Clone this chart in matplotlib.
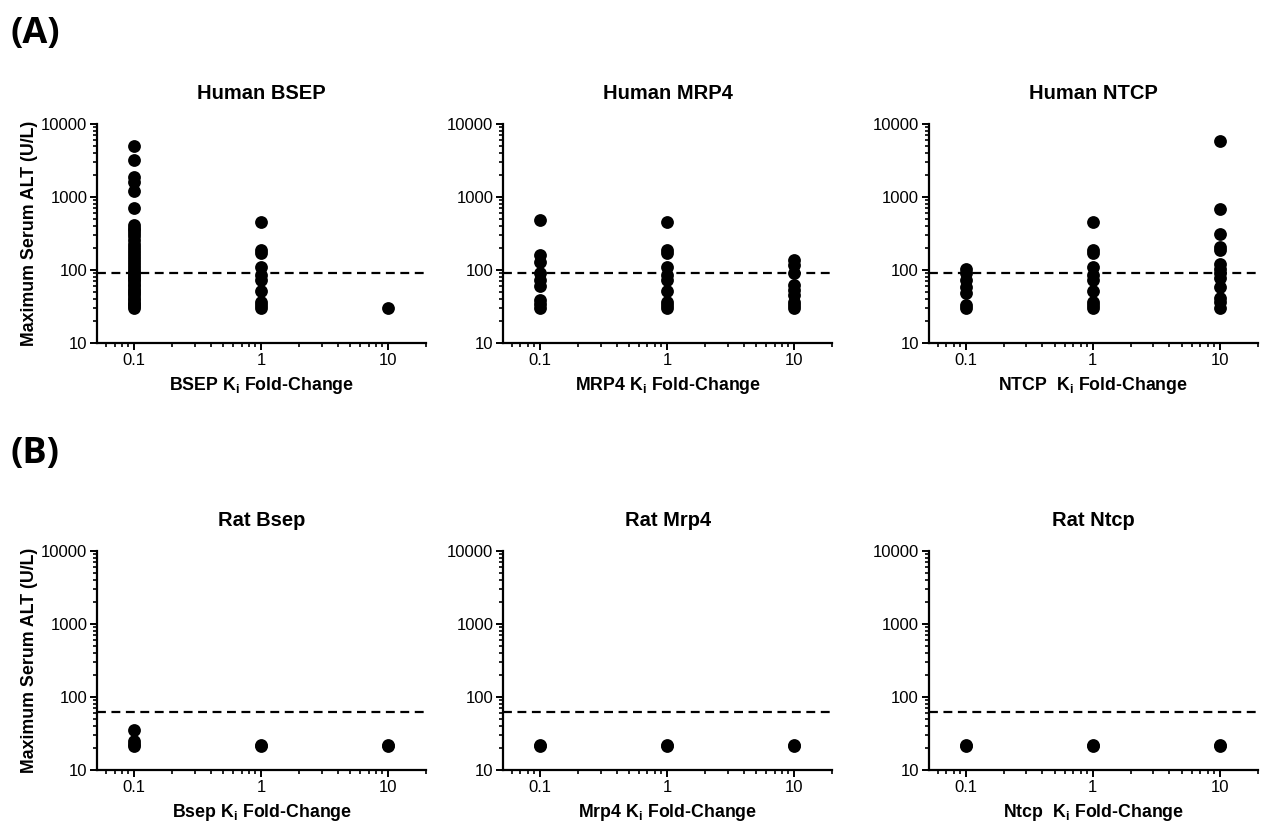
import matplotlib
matplotlib.use("Agg")
import matplotlib.pyplot as plt
from matplotlib.ticker import LogLocator, NullFormatter

plt.rcParams['font.family'] = ['Liberation Sans', 'DejaVu Sans']
plt.rcParams['mathtext.fontset'] = 'custom'
plt.rcParams['mathtext.bf'] = 'Liberation Sans:bold'
plt.rcParams['mathtext.rm'] = 'Liberation Sans:bold'

# data (U/L)
fold = [0.1, 1, 10]

bsep_h_01 = [5000, 3200, 1900, 1600, 1200, 700, 410, 380, 350, 320, 290, 260, 230,
             210, 190, 170, 155, 140, 128, 116, 106, 98, 92, 86, 80, 75, 70, 65, 60,
             56, 52, 48, 45, 42, 39, 36, 34, 32, 30]
bsep_h_1 = [457, 186, 170, 111, 85, 73, 52, 37, 33, 30]
bsep_h_10 = [30]

mrp4_h_01 = [480, 163, 130, 90, 73, 61, 39, 34, 30]
mrp4_h_1 = [457, 186, 170, 111, 85, 73, 52, 37, 33, 30]
mrp4_h_10 = [137, 117, 90, 62, 53, 46, 37, 33, 30]

ntcp_h_01 = [105, 90, 73, 59, 48, 33, 30]
ntcp_h_1 = [457, 186, 170, 111, 85, 73, 52, 37, 33, 30]
ntcp_h_10 = [5900, 690, 309, 209, 187, 123, 105, 90, 77, 59, 41, 37, 30]

bsep_r_01 = [35, 25, 23, 21]
bsep_r_1 = [22, 21]
bsep_r_10 = [22, 21]
mrp4_r = [[22, 21], [22, 21], [22, 21]]
ntcp_r = [[22, 21], [22, 21], [22, 21]]

human_cut = 90
rat_cut = 63

panels = [
    ("Human BSEP", "BSEP K$_\\mathbf{i}$ Fold-Change", [bsep_h_01, bsep_h_1, bsep_h_10], human_cut),
    ("Human MRP4", "MRP4 K$_\\mathbf{i}$ Fold-Change", [mrp4_h_01, mrp4_h_1, mrp4_h_10], human_cut),
    ("Human NTCP", "NTCP  K$_\\mathbf{i}$ Fold-Change", [ntcp_h_01, ntcp_h_1, ntcp_h_10], human_cut),
    ("Rat Bsep", "Bsep K$_\\mathbf{i}$ Fold-Change", [bsep_r_01, bsep_r_1, bsep_r_10], rat_cut),
    ("Rat Mrp4", "Mrp4 K$_\\mathbf{i}$ Fold-Change", mrp4_r, rat_cut),
    ("Rat Ntcp", "Ntcp  K$_\\mathbf{i}$ Fold-Change", ntcp_r, rat_cut),
]

fig = plt.figure(figsize=(12.67, 8.27), dpi=100)

lefts = [0.0766, 0.397, 0.733]
bottoms = [0.585, 0.069]
w, h = 0.26, 0.265

for i, (title, xlab, groups, cut) in enumerate(panels):
    row, col = divmod(i, 3)
    ax = fig.add_axes([lefts[col], bottoms[row], w, h])
    for xv, ys in zip(fold, groups):
        ax.scatter([xv] * len(ys), ys, s=85, color='black', zorder=3, linewidths=0)
    ax.axhline(cut, color='black', lw=1.6, ls=(0, (4, 2.5)))
    ax.set_xscale('log')
    ax.set_yscale('log')
    ax.set_xlim(0.051, 20)
    ax.set_ylim(10, 10000)
    ax.set_xticks(fold)
    ax.set_xticklabels(['0.1', '1', '10'])
    ax.xaxis.set_minor_locator(LogLocator(base=10, subs=range(2, 10)))
    ax.xaxis.set_minor_formatter(NullFormatter())
    ax.set_yticks([10, 100, 1000, 10000])
    ax.set_yticklabels(['10', '100', '1000', '10000'])
    ax.yaxis.set_minor_locator(LogLocator(base=10, subs=range(2, 10)))
    ax.yaxis.set_minor_formatter(NullFormatter())
    for s in ['top', 'right']:
        ax.spines[s].set_visible(False)
    for s in ['left', 'bottom']:
        ax.spines[s].set_linewidth(1.6)
    ax.tick_params(which='major', length=5, width=1.4, labelsize=12, pad=2)
    ax.tick_params(which='minor', length=3, width=1.2)
    ax.set_title(title, fontsize=14.5, fontweight='bold', pad=18)
    ax.set_xlabel(xlab, fontsize=12.8, fontweight='bold', labelpad=5)
    if col == 0:
        ax.set_ylabel("Maximum Serum ALT (U/L)", fontsize=12.8, fontweight='bold', labelpad=2)

fig.text(0.008, 0.948, "(A)", fontsize=26, fontweight='bold', family=['Open Sans', 'DejaVu Sans'])
fig.text(0.008, 0.440, "(B)", fontsize=26, fontweight='bold', family=['Open Sans', 'DejaVu Sans'])

fig.savefig("out.png", dpi=100)
